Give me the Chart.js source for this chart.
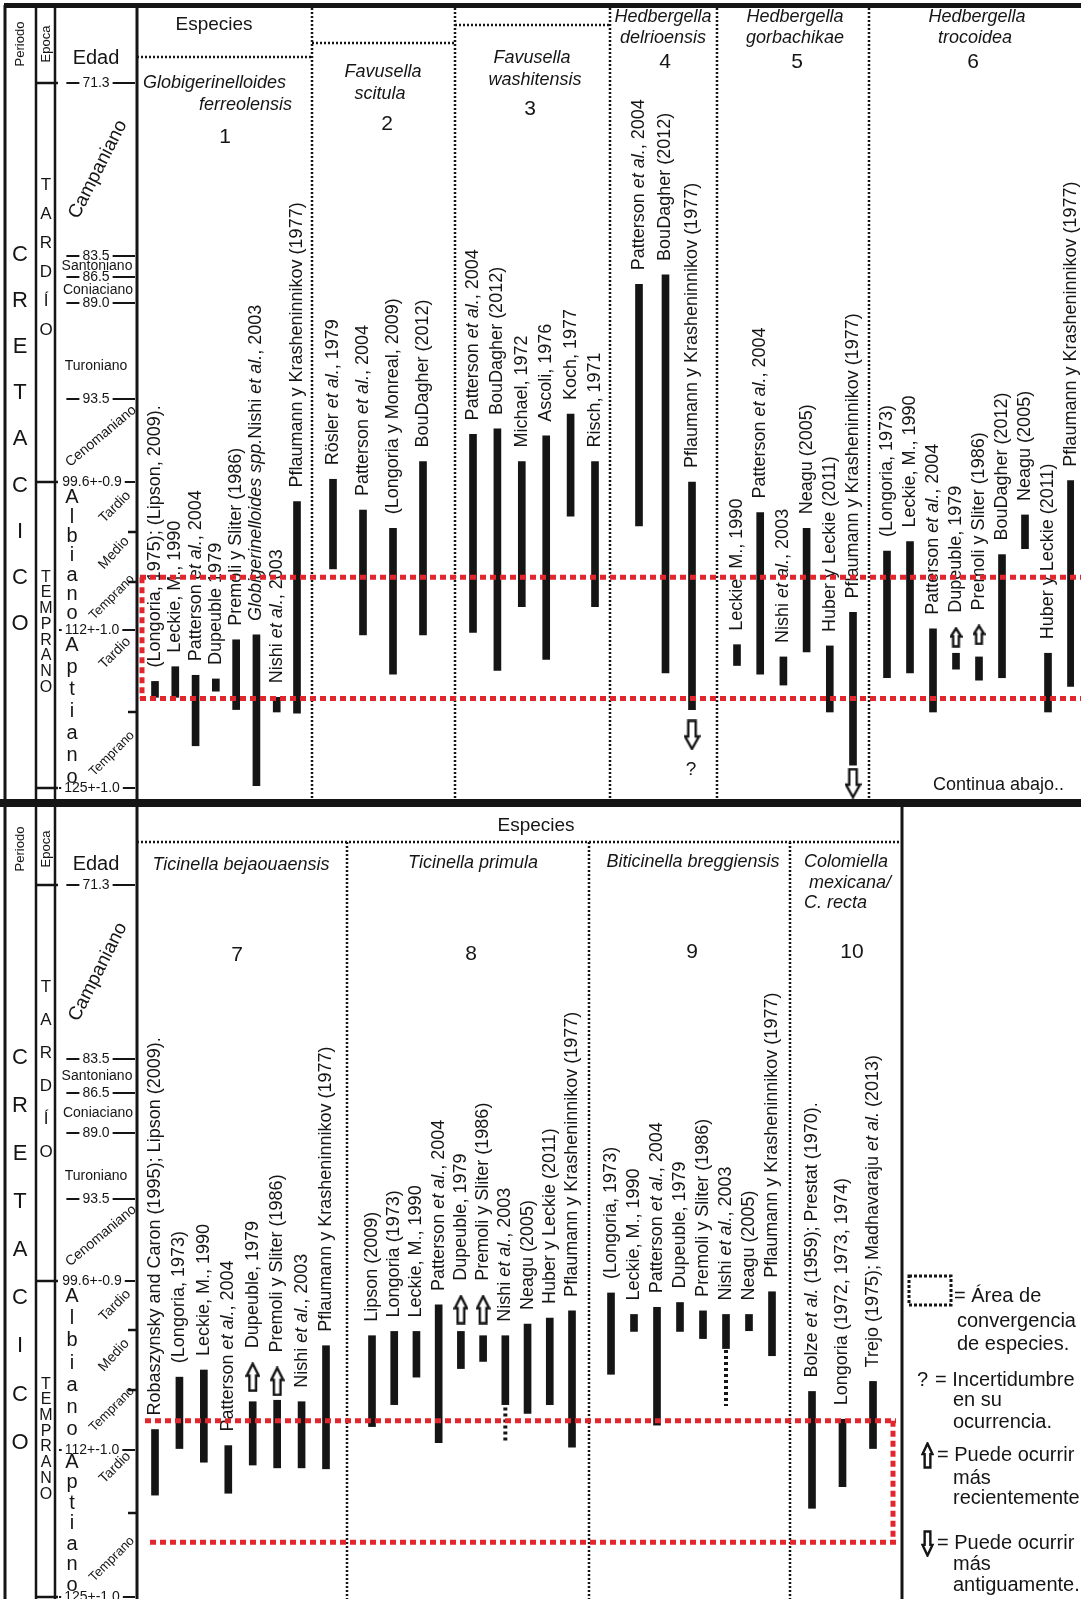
<!DOCTYPE html>
<html>
<head>
<meta charset="utf-8">
<script src="https://cdn.jsdelivr.net/npm/chart.js@4.4.1/dist/chart.umd.min.js"></script>
<style>
html,body{margin:0;padding:0;background:#fff;}
#wrap{position:relative;width:1081px;height:1599px;}
canvas{display:block;}
</style>
</head>
<body>
<div id="wrap"><canvas id="c" width="1081" height="1599"></canvas></div>
<script>
// ================= DATA =================
const ageTicks      = [71.3, 83.5, 86.5, 89.0, 93.5, 99.6, 103.7, 107.9, 112.0, 118.7, 125.0];
const ageTickLabels = ['71.3', '83.5', '86.5', '89.0', '93.5', '99.6+-0.9', '', '', '112+-1.0', '', '125+-1.0'];
const stageNames    = ['Campaniano', 'Santoniano', 'Coniaciano', 'Turoniano', 'Cenomaniano',
                       'Tardio', 'Medio', 'Temprano', 'Tardio', 'Temprano'];
const periodName    = 'CRETACICO';
const periodSpan    = [83.4, 111.5];
const epochNames    = ['TARDÍO', 'TEMPRANO'];
const epochSpans    = [[78.5, 90.3], [107.5, 116.7]];
const epochBounds   = [71.3, 99.6, 125.0];
const ageNames      = ['Albiano', 'Aptiano'];
const ageNameSpans  = [[100.9, 110.6], [113.3, 124.1]];

const speciesNames = [
  ['Globigerinelloides', 'ferreolensis'],
  ['Favusella', 'scitula'],
  ['Favusella', 'washitensis'],
  ['Hedbergella', 'delrioensis'],
  ['Hedbergella', 'gorbachikae'],
  ['Hedbergella', 'trocoidea'],
  ['Ticinella bejaouaensis'],
  ['Ticinella primula'],
  ['Biticinella breggiensis'],
  ['Colomiella', 'mexicana/', 'C. recta']
];
const speciesNumbers = ['1', '2', '3', '4', '5', '6', '7', '8', '9', '10'];

// references (text between _ _ is italic) and age ranges [top, base] in Ma
const refs1 = ['(Longoria, 1975); (Lipson, 2009).', 'Leckie, M., 1990', 'Patterson _et al._, 2004', 'Dupeuble 1979',
               'Premoli y Sliter (1986)', '_Globigerinelloides spp._Nishi _et al._, 2003', 'Nishi _et al._, 2003',
               'Pflaumann y Krasheninnikov (1977)'];
const ages1 = [[116.2, 117.5], [115.0, 117.5], [115.7, 121.5], [116.0, 117.0], [112.8, 118.5], [112.4, 124.8], [117.5, 118.7], [101.2, 118.8]];

const refs2 = ['Rösler _et al._, 1979', 'Patterson _et al._, 2004', '(Longoria y Monreal, 2009)', 'BouDagher (2012)'];
const ages2 = [[99.4, 106.8], [101.9, 112.4], [103.4, 115.6], [98.1, 112.4]];

const refs3 = ['Patterson _et al._, 2004', 'BouDagher (2012)', 'Michael, 1972', 'Ascoli, 1976', 'Koch, 1977', 'Risch, 1971'];
const ages3 = [[96.1, 112.2], [95.7, 115.3], [98.1, 110.0], [96.2, 114.4], [94.6, 102.4], [98.1, 110.0]];

const refs4 = ['Patterson _et al._, 2004', 'BouDagher (2012)', 'Pflaumann y Krasheninnikov (1977)'];
const ages4 = [[87.2, 103.2], [86.2, 115.5], [99.6, 118.5]];

const refs5 = ['Leckie, M., 1990', 'Patterson _et al._, 2004', 'Nishi _et al._, 2003', 'Neagu (2005)',
               'Huber y Leckie (2011)', 'Pflaumann y Krasheninnikov (1977)'];
const ages5 = [[113.2, 114.9], [102.1, 115.6], [114.2, 116.5], [103.4, 113.8], [113.3, 118.7], [110.5, 123.1]];

const refs6 = ['(Longoria, 1973)', 'Leckie, M., 1990', 'Patterson _et al._, 2004', 'Dupeuble, 1979', 'Premoli y Sliter (1986)',
               'BouDagher (2012)', 'Neagu (2005)', 'Huber y Leckie (2011)', 'Pflaumann y Krasheninnikov (1977)'];
const ages6 = [[105.3, 115.9], [104.5, 115.5], [111.9, 118.7], [113.9, 115.2], [114.2, 116.1], [105.6, 115.9], [102.3, 105.1], [113.9, 118.7], [99.5, 116.6]];

const refs7 = ['Robaszynsky and Caron (1995); Lipson (2009).', '(Longoria, 1973)', 'Leckie, M., 1990', 'Patterson _et al._, 2004',
               'Dupeuble, 1979', 'Premoli y Sliter (1986)', 'Nishi _et al._, 2003', 'Pflaumann y Krasheninnikov (1977)'];
const ages7 = [[110.6, 116.8], [107.0, 111.9], [106.5, 113.3], [111.7, 116.6], [108.7, 113.6], [108.6, 113.9], [108.7, 113.9], [104.8, 114.0]];

const refs8 = ['Lipson (2009)', 'Longoria (1973)', 'Leckie, M., 1990', 'Patterson _et al._, 2004', 'Dupeuble, 1979',
               'Premoli y Sliter (1986)', 'Nishi _et al._, 2003', 'Neagu (2005)', 'Huber y Leckie (2011)', 'Pflaumann y Krasheninnikov (1977)'];
const ages8 = [[104.1, 110.4], [103.8, 108.9], [103.8, 107.0], [101.6, 111.5], [103.8, 106.4], [104.1, 105.9], [104.1, 108.9], [103.2, 109.5], [102.7, 108.9], [102.1, 111.8]];

const refs9 = ['(Longoria, 1973)', 'Leckie, M., 1990', 'Patterson _et al._, 2004', 'Dupeuble, 1979', 'Premoli y Sliter (1986)',
               'Nishi _et al._, 2003', 'Neagu (2005)', 'Pflaumann y Krasheninnikov (1977)'];
const ages9 = [[100.6, 106.8], [102.4, 103.8], [101.8, 110.3], [101.4, 103.8], [102.1, 104.3], [102.4, 105.0], [102.4, 103.75], [100.5, 105.5]];

const refs10 = ['Bolze _et al._ (1959); Prestat (1970).', 'Longoria (1972, 1973, 1974)', 'Trejo (1975); Madhavaraju _et al._ (2013)'];
const ages10 = [[108.0, 118.2], [109.9, 115.9], [107.3, 111.9]];

// [species column, reference, age]
const arrowsUp   = [[6, 4, 112.6], [6, 5, 112.4], [7, 5, 107.0], [7, 6, 107.3], [8, 5, 102.0], [8, 6, 102.0]];
const arrowsDown = [[4, 3, 120.6], [5, 6, 124.6]];
const uncertainMarks = [[4, 3, 123.5]];
// [species column, reference, from age, to age]  (dotted = uncertain extension)
const dottedExtensions = [[8, 7, 109.1, 111.4], [9, 6, 105.1, 109.0]];
const convergenceTop    = [107.5, 117.6];
const convergenceBottom = [110.0, 120.9];

const legendTexts = ['= Área de', 'convergencia', 'de especies.', '?', '= Incertidumbre', 'en su', 'ocurrencia.',
                     '= Puede ocurrir', 'más', 'recientemente', '= Puede ocurrir', 'más', 'antiguamente.'];

// ================= LAYOUT (positions / styles) =================
const INK = '#151515';
const RED = '#e1262e';
const FONT = '"Liberation Sans", Arial, Helvetica, sans-serif';

const PANELS = [
  { key: 'Top', cols: [0, 1, 2, 3, 4, 5], y0: 5, y1: 799,
    tickPx: [83, 256, 277, 303, 399, 482, 532, 582, 630, 712, 788],
    barPx: [[155, 297], [333, 423], [473, 595], [639, 692], [737, 853], [887, 1071]],
    periodoY: 44, epocaY: 44, edadY: 58 },
  { key: 'Bot', cols: [6, 7, 8, 9], y0: 805, y1: 1599,
    tickPx: [885, 1059, 1093, 1133, 1199, 1281, 1330, 1390, 1450, 1513, 1597],
    barPx: [[155, 326], [372, 572], [611, 772], [812, 873]],
    periodoY: 849, epocaY: 849, edadY: 864 }
];

const STAGE_STYLE = [
  { rot: -63, size: 19, frac: 0.5,  x: 98 },
  { rot: 0,   size: 14, frac: 0.5,  x: 97 },
  { rot: 0,   size: 14, frac: 0.5,  x: 98 },
  { rot: 0,   size: 14, frac: 0.66, x: 96 },
  { rot: -40, size: 14, frac: 0.45, x: 101 },
  { rot: -45, size: 14, frac: 0.5,  x: 115 },
  { rot: -48, size: 14, frac: 0.42, x: 114 },
  { rot: -45, size: 13, frac: 0.32, x: 112 },
  { rot: -45, size: 14, frac: 0.28, x: 115 },
  { rot: -45, size: 13, frac: 0.55, x: 112 }
];

const HEADERS = [
  { lines: [[143, 83, 'left'], [292, 105, 'right']], num: [225, 137] },
  { lines: [[383, 72], [380, 94]], num: [387, 124] },
  { lines: [[532, 58], [535, 80]], num: [530, 109] },
  { lines: [[663, 17], [663, 38]], num: [665, 62] },
  { lines: [[795, 17], [795, 38]], num: [797, 62] },
  { lines: [[977, 17], [975, 38]], num: [973, 62] },
  { lines: [[241, 865]], num: [237, 955] },
  { lines: [[473, 863]], num: [471, 954] },
  { lines: [[693, 862]], num: [692, 952] },
  { lines: [[804, 862, 'left'], [809, 883, 'left'], [804, 903, 'left']], num: [852, 952] }
];

const LEGEND_POS = [[954, 1296], [957, 1321], [957, 1344], [917, 1380], [935, 1380], [953, 1400], [953, 1422],
                    [937, 1455], [953, 1478], [953, 1498], [937, 1543], [953, 1564], [953, 1585]];

// ================= SCALE =================
const BREAKS = {};
function interp(b, v, ki, ko) {
  if (v === null || v === undefined || isNaN(v)) return NaN;
  let i = 0;
  while (i < b.length - 2 && v > b[i + 1][ki]) i++;
  const a = b[i], c = b[i + 1];
  return a[ko] + (v - a[ki]) / (c[ki] - a[ki]) * (c[ko] - a[ko]);
}
class PiecewiseScale extends Chart.LinearScale {
  getPixelForValue(v) { return interp(BREAKS[this.id], v, 0, 1); }
  getValueForPixel(p) { return interp(BREAKS[this.id], p, 1, 0); }
}
PiecewiseScale.id = 'piecewise';
PiecewiseScale.defaults = {};
Chart.register(PiecewiseScale);

// ================= BUILD =================
const allRefs = [refs1, refs2, refs3, refs4, refs5, refs6, refs7, refs8, refs9, refs10];
const allAges = [ages1, ages2, ages3, ages4, ages5, ages6, ages7, ages8, ages9, ages10];
const slotOf = [];
const panelOfCol = [];

function makeArrow(dir, w, h) {
  const c = document.createElement('canvas');
  c.width = w; c.height = h;
  const g = c.getContext('2d');
  const lw = 2.4, m = lw / 2 + 0.3;
  const headH = h * 0.45, sw = w * 0.44;
  let pts = [[w / 2, m], [w - m, headH], [w / 2 + sw / 2, headH], [w / 2 + sw / 2, h - m],
             [w / 2 - sw / 2, h - m], [w / 2 - sw / 2, headH], [m, headH]];
  if (dir === 'down') pts = pts.map(p => [p[0], h - p[1]]);
  g.beginPath();
  pts.forEach((p, i) => i ? g.lineTo(p[0], p[1]) : g.moveTo(p[0], p[1]));
  g.closePath();
  g.fillStyle = '#fff'; g.fill();
  g.lineWidth = lw; g.strokeStyle = INK; g.lineJoin = 'miter'; g.stroke();
  return c;
}
const SPRITES = {
  upTop: makeArrow('up', 13, 21),
  upBot: makeArrow('up', 15, 30),
  downTop: makeArrow('down', 17, 31),
  legendUp: makeArrow('up', 13, 27),
  legendDown: makeArrow('down', 13, 27)
};

const datasets = [];
PANELS.forEach((P, pi) => {
  const xb = [];
  let s = 0;
  const bars = [];
  P.cols.forEach((ci, k) => {
    const n = allRefs[ci].length;
    slotOf[ci] = [];
    panelOfCol[ci] = pi;
    xb.push([s, P.barPx[k][0]], [s + n - 1, P.barPx[k][1]]);
    allAges[ci].forEach((a, j) => { slotOf[ci][j] = s + j; bars.push({ x: s + j, y: [a[0], a[1]] }); });
    s += n;
  });
  BREAKS['x' + P.key] = xb;
  BREAKS['y' + P.key] = ageTicks.map((a, i) => [a, P.tickPx[i]]);
  datasets.push({
    type: 'bar', data: bars, xAxisID: 'x' + P.key, yAxisID: 'y' + P.key,
    backgroundColor: INK, borderWidth: 0, barThickness: 7, grouped: false, order: 2
  });
  const arrowPts = [], arrowStyles = [];
  arrowsUp.filter(a => P.cols.includes(a[0] - 1)).forEach(a => {
    arrowPts.push({ x: slotOf[a[0] - 1][a[1] - 1], y: a[2] });
    arrowStyles.push(pi === 0 ? SPRITES.upTop : SPRITES.upBot);
  });
  arrowsDown.filter(a => P.cols.includes(a[0] - 1)).forEach(a => {
    arrowPts.push({ x: slotOf[a[0] - 1][a[1] - 1], y: a[2] });
    arrowStyles.push(SPRITES.downTop);
  });
  if (arrowPts.length) datasets.push({
    type: 'scatter', data: arrowPts, xAxisID: 'x' + P.key, yAxisID: 'y' + P.key,
    pointStyle: arrowStyles, pointRadius: 6, order: 1
  });
  dottedExtensions.filter(d => P.cols.includes(d[0] - 1)).forEach(d => {
    const x = slotOf[d[0] - 1][d[1] - 1];
    datasets.push({
      type: 'line', data: [{ x: x, y: d[2] }, { x: x, y: d[3] }], xAxisID: 'x' + P.key, yAxisID: 'y' + P.key,
      borderColor: INK, borderWidth: 4, borderDash: [3, 3], pointRadius: 0, fill: false, order: 1
    });
  });
});

// ================= DRAW HELPERS =================
function font(size, italic) { return (italic ? 'italic ' : '') + size + 'px ' + FONT; }
function text(ctx, s, x, y, size, o) {
  o = o || {};
  ctx.save();
  ctx.font = font(size, o.italic);
  ctx.fillStyle = o.color || INK;
  ctx.textAlign = o.align || 'center';
  ctx.textBaseline = 'middle';
  ctx.translate(x, y);
  if (o.rot) ctx.rotate(o.rot * Math.PI / 180);
  ctx.fillText(s, 0, 0);
  ctx.restore();
}
function line(ctx, x1, y1, x2, y2, w, dash, color) {
  ctx.save();
  ctx.strokeStyle = color || INK;
  ctx.lineWidth = w;
  ctx.setLineDash(dash || []);
  ctx.beginPath(); ctx.moveTo(x1, y1); ctx.lineTo(x2, y2); ctx.stroke();
  ctx.restore();
}
function richLabel(ctx, str, x, y, size) {
  const parts = str.split('_');
  ctx.save();
  ctx.translate(x, y);
  ctx.rotate(-Math.PI / 2);
  ctx.textBaseline = 'middle'; ctx.textAlign = 'left'; ctx.fillStyle = INK;
  let cx = 0;
  parts.forEach((p, i) => {
    if (!p) return;
    ctx.font = font(size, i % 2 === 1);
    ctx.fillText(p, cx, 0);
    cx += ctx.measureText(p).width;
  });
  ctx.restore();
}
function letters(ctx, word, x, y0, y1, size) {
  const n = word.length;
  for (let k = 0; k < n; k++) text(ctx, word[k], x, y0 + (y1 - y0) * k / (n - 1), size);
}
const DOT = [2, 2];

function drawTimeColumn(ctx, chart, P) {
  const ys = chart.scales['y' + P.key];
  const Y = a => ys.getPixelForValue(a);
  line(ctx, 5, P.y0, 5, P.y1, 3);
  line(ctx, 36, P.y0, 36, P.y1, 2.5);
  line(ctx, 55, P.y0, 55, P.y1, 2.5);
  line(ctx, 137, P.y0, 137, P.y1, 3);
  text(ctx, 'Periodo', 20, P.periodoY, 13, { rot: -90 });
  text(ctx, 'Epoca', 46, P.epocaY, 13, { rot: -90 });
  text(ctx, 'Edad', 96, P.edadY, 20);
  epochBounds.forEach(a => line(ctx, 36, Y(a), 58, Y(a), 2.5));
  ctx.save(); ctx.font = font(14);
  const widths = ageTickLabels.map(l => ctx.measureText(l).width);
  ctx.restore();
  ageTicks.forEach((a, i) => {
    const y = Y(a), lab = ageTickLabels[i];
    if (lab) {
      const w = widths[i];
      const cx = w > 40 ? 92 : 96;
      text(ctx, lab, cx, y, 14);
      const L = cx - w / 2, R = cx + w / 2;
      const ls = Math.max(59, L - 16);
      if (L - 3 - ls > 2) line(ctx, ls, y, L - 3, y, 2);
      line(ctx, R + 3, y, 135, y, 2);
    } else {
      line(ctx, 128, y, 137, y, 2.5);
    }
  });
  stageNames.forEach((s, i) => {
    const st = STAGE_STYLE[i];
    const y = Y(ageTicks[i]) + st.frac * (Y(ageTicks[i + 1]) - Y(ageTicks[i]));
    text(ctx, s, st.x, y, st.size, { rot: st.rot });
  });
  letters(ctx, periodName, 20, Y(periodSpan[0]), Y(periodSpan[1]), 22);
  epochNames.forEach((w, i) => letters(ctx, w, 46, Y(epochSpans[i][0]), Y(epochSpans[i][1]), i === 0 ? 17 : 16));
  ageNames.forEach((w, i) => letters(ctx, w, 72, Y(ageNameSpans[i][0]), Y(ageNameSpans[i][1]), 20));
}

const chromePlugin = {
  id: 'chrome',
  beforeDraw(chart) {
    const ctx = chart.ctx;
    ctx.save(); ctx.fillStyle = '#fff'; ctx.fillRect(0, 0, chart.width, chart.height); ctx.restore();
  },
  beforeDatasetsDraw(chart) {
    const ctx = chart.ctx;
    ctx.save(); ctx.fillStyle = INK;
    ctx.fillRect(4, 3, 1077, 5);
    ctx.fillRect(0, 799, 1081, 8);
    ctx.restore();
    PANELS.forEach(P => drawTimeColumn(ctx, chart, P));

    // ---- top panel species area
    text(ctx, 'Especies', 214, 25, 19);
    line(ctx, 137, 57, 312, 57, 2.5, DOT);
    line(ctx, 312, 43, 455, 43, 2.5, DOT);
    line(ctx, 455, 25, 610, 25, 2.5, DOT);
    [312, 455, 610, 717, 869].forEach(x => line(ctx, x, 8, x, 799, 2.5, DOT));
    text(ctx, 'Continua abajo..', 933, 785, 18, { align: 'left' });

    // ---- bottom panel species area
    text(ctx, 'Especies', 536, 826, 19);
    line(ctx, 137, 842, 902, 842, 2.5, DOT);
    [347, 589, 790].forEach(x => line(ctx, x, 842, x, 1599, 2.5, DOT));
    line(ctx, 902, 805, 902, 1599, 3);

    // species headers
    speciesNames.forEach((nm, ci) => {
      const H = HEADERS[ci];
      nm.forEach((t, k) => {
        const p = H.lines[k];
        text(ctx, t, p[0], p[1], 18, { italic: true, align: p[2] || 'center' });
      });
      text(ctx, speciesNumbers[ci], H.num[0], H.num[1], 21);
    });

    // reference labels
    PANELS.forEach((P, pi) => {
      const xs = chart.scales['x' + P.key], ys = chart.scales['y' + P.key];
      P.cols.forEach(ci => {
        allRefs[ci].forEach((r, j) => {
          const x = xs.getPixelForValue(slotOf[ci][j]);
          let top = ys.getPixelForValue(allAges[ci][j][0]);
          const up = arrowsUp.find(a => a[0] === ci + 1 && a[1] === j + 1);
          if (up) {
            const sp = pi === 0 ? SPRITES.upTop : SPRITES.upBot;
            top = Math.min(top, ys.getPixelForValue(up[2]) - sp.height / 2);
          }
          richLabel(ctx, r, x, top - 14, 18);
        });
      });
    });
  },
  afterDatasetsDraw(chart) {
    const ctx = chart.ctx;
    const RD = [6, 4];
    let ys = chart.scales.yTop;
    let a = ys.getPixelForValue(convergenceTop[0]), b = ys.getPixelForValue(convergenceTop[1]);
    line(ctx, 140, a, 1081, a, 5, RD, RED);
    line(ctx, 140, b, 1081, b, 5, RD, RED);
    line(ctx, 142, a, 142, b, 5, RD, RED);
    ys = chart.scales.yBot;
    a = ys.getPixelForValue(convergenceBottom[0]); b = ys.getPixelForValue(convergenceBottom[1]);
    line(ctx, 145, a, 896, a, 5, RD, RED);
    line(ctx, 150, b, 896, b, 5, RD, RED);
    line(ctx, 893, a, 893, b, 5, RD, RED);

    uncertainMarks.forEach(m => {
      const P = PANELS[panelOfCol[m[0] - 1]];
      const x = chart.scales['x' + P.key].getPixelForValue(slotOf[m[0] - 1][m[1] - 1]);
      const y = chart.scales['y' + P.key].getPixelForValue(m[2]);
      text(ctx, '?', x - 1, y, 19);
    });

    ctx.save();
    ctx.strokeStyle = INK; ctx.lineWidth = 3; ctx.setLineDash([3, 2]);
    ctx.strokeRect(909, 1276, 42, 29);
    ctx.restore();
    legendTexts.forEach((t, i) => text(ctx, t, LEGEND_POS[i][0], LEGEND_POS[i][1], 20, { align: 'left' }));
    ctx.drawImage(SPRITES.legendUp, 921, 1442);
    ctx.drawImage(SPRITES.legendDown, 921, 1530);
  }
};

const xy = {};
PANELS.forEach(P => {
  xy['x' + P.key] = { type: 'piecewise', display: false, axis: 'x' };
  xy['y' + P.key] = { type: 'piecewise', display: false, axis: 'y' };
});

new Chart(document.getElementById('c'), {
  type: 'bar',
  data: { datasets: datasets },
  options: {
    responsive: false,
    animation: false,
    devicePixelRatio: 1,
    layout: { padding: 0 },
    scales: xy,
    plugins: { legend: { display: false }, tooltip: { enabled: false }, title: { display: false } },
    events: []
  },
  plugins: [chromePlugin]
});
</script>
</body>
</html>
